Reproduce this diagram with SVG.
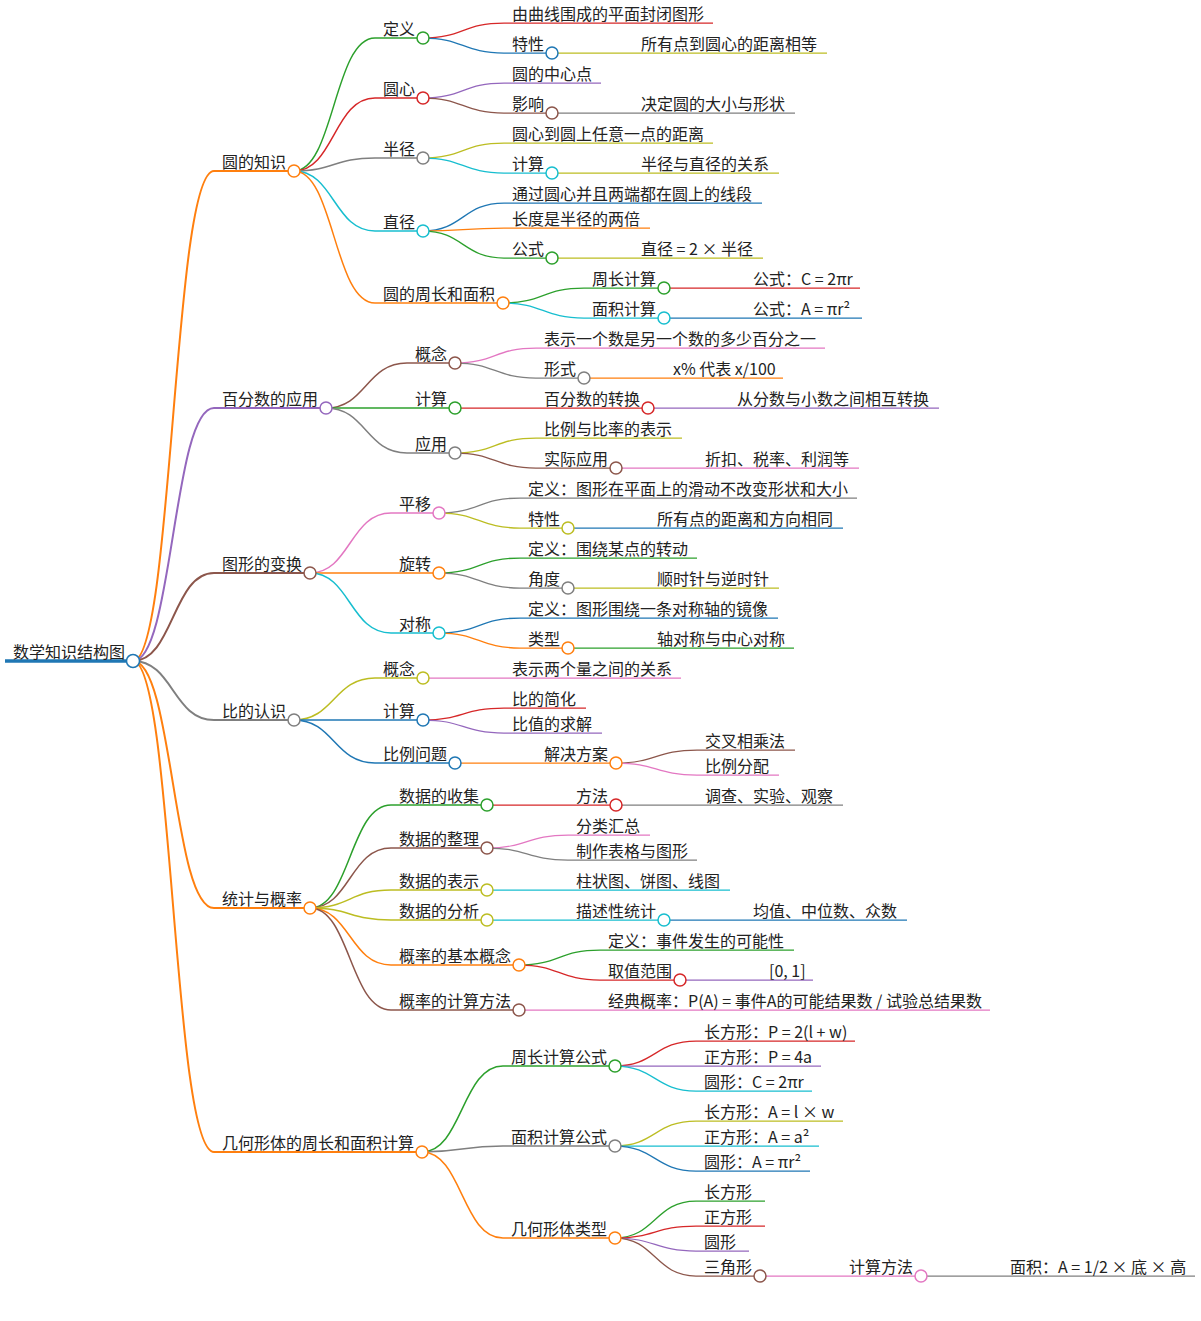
<svg xmlns="http://www.w3.org/2000/svg" width="1201" height="1321" viewBox="0 0 1201 1321">
<style>
text{font-family:"Noto Sans CJK SC","Noto Sans",sans-serif;font-size:16px;fill:#222}
path{fill:none}
circle{fill:#fff;stroke-width:1.5}
.d0{stroke-width:3.3}.d1{stroke-width:2}.d2{stroke-width:1.5}.d3{stroke-width:1.25}
.cB{stroke:#1f77b4}.cO{stroke:#ff7f0e}.cG{stroke:#2ca02c}.cR{stroke:#d62728}.cP{stroke:#9467bd}
.cN{stroke:#8c564b}.cK{stroke:#e377c2}.cY{stroke:#7f7f7f}.cL{stroke:#bcbd22}.cC{stroke:#17becf}
</style>
<rect width="1201" height="1321" fill="#fff"/>
<g id="connectors">
<path class="d1 cO" d="M133,661 C173,661 173,171 214,171"/>
<path class="d1 cP" d="M133,661 C173,661 173,408 214,408"/>
<path class="d1 cN" d="M133,661 C173,661 173,573 214,573"/>
<path class="d1 cY" d="M133,661 C173,661 173,720 214,720"/>
<path class="d1 cO" d="M133,661 C173,661 173,908 214,908"/>
<path class="d1 cO" d="M133,661 C173,661 173,1152 214,1152"/>
<path class="d2 cG" d="M294,171 C334,171 334,38 375,38"/>
<path class="d2 cR" d="M294,171 C334,171 334,98 375,98"/>
<path class="d2 cY" d="M294,171 C334,171 334,158 375,158"/>
<path class="d2 cC" d="M294,171 C334,171 334,231 375,231"/>
<path class="d2 cO" d="M294,171 C334,171 334,303 375,303"/>
<path class="d3 cR" d="M423,38 C463,38 463,23 504,23"/>
<path class="d3 cB" d="M423,38 C463,38 463,53 504,53"/>
<path class="d3 cL" d="M552,53 L633,53"/>
<path class="d3 cP" d="M423,98 C463,98 463,83 504,83"/>
<path class="d3 cN" d="M423,98 C463,98 463,113 504,113"/>
<path class="d3 cY" d="M552,113 L633,113"/>
<path class="d3 cL" d="M423,158 C463,158 463,143 504,143"/>
<path class="d3 cC" d="M423,158 C463,158 463,173 504,173"/>
<path class="d3 cL" d="M552,173 L633,173"/>
<path class="d3 cB" d="M423,231 C463,231 463,203 504,203"/>
<path class="d3 cO" d="M423,231 C463,231 463,228 504,228"/>
<path class="d3 cG" d="M423,231 C463,231 463,258 504,258"/>
<path class="d3 cL" d="M552,258 L633,258"/>
<path class="d3 cG" d="M503,303 C543,303 543,288 584,288"/>
<path class="d3 cC" d="M503,303 C543,303 543,318 584,318"/>
<path class="d3 cR" d="M664,288 L745,288"/>
<path class="d3 cB" d="M664,318 L745,318"/>
<path class="d2 cN" d="M326,408 C366,408 366,363 407,363"/>
<path class="d2 cG" d="M326,408 L407,408"/>
<path class="d2 cY" d="M326,408 C366,408 366,453 407,453"/>
<path class="d3 cK" d="M455,363 C495,363 495,348 536,348"/>
<path class="d3 cY" d="M455,363 C495,363 495,378 536,378"/>
<path class="d3 cO" d="M584,378 L665,378"/>
<path class="d3 cR" d="M455,408 L536,408"/>
<path class="d3 cP" d="M648,408 L729,408"/>
<path class="d3 cL" d="M455,453 C495,453 495,438 536,438"/>
<path class="d3 cN" d="M455,453 C495,453 495,468 536,468"/>
<path class="d3 cK" d="M616,468 L697,468"/>
<path class="d2 cK" d="M310,573 C350,573 350,513 391,513"/>
<path class="d2 cO" d="M310,573 L391,573"/>
<path class="d2 cC" d="M310,573 C350,573 350,633 391,633"/>
<path class="d3 cY" d="M439,513 C479,513 479,498 520,498"/>
<path class="d3 cL" d="M439,513 C479,513 479,528 520,528"/>
<path class="d3 cB" d="M568,528 L649,528"/>
<path class="d3 cG" d="M439,573 C479,573 479,558 520,558"/>
<path class="d3 cY" d="M439,573 C479,573 479,588 520,588"/>
<path class="d3 cL" d="M568,588 L649,588"/>
<path class="d3 cB" d="M439,633 C479,633 479,618 520,618"/>
<path class="d3 cO" d="M439,633 C479,633 479,648 520,648"/>
<path class="d3 cG" d="M568,648 L649,648"/>
<path class="d2 cL" d="M294,720 C334,720 334,678 375,678"/>
<path class="d2 cB" d="M294,720 L375,720"/>
<path class="d2 cB" d="M294,720 C334,720 334,763 375,763"/>
<path class="d3 cK" d="M423,678 L504,678"/>
<path class="d3 cR" d="M423,720 C463,720 463,708 504,708"/>
<path class="d3 cP" d="M423,720 C463,720 463,733 504,733"/>
<path class="d3 cO" d="M455,763 L536,763"/>
<path class="d3 cN" d="M616,763 C656,763 656,750 697,750"/>
<path class="d3 cK" d="M616,763 C656,763 656,775 697,775"/>
<path class="d2 cG" d="M310,908 C350,908 350,805 391,805"/>
<path class="d2 cN" d="M310,908 C350,908 350,848 391,848"/>
<path class="d2 cL" d="M310,908 C350,908 350,890 391,890"/>
<path class="d2 cL" d="M310,908 C350,908 350,920 391,920"/>
<path class="d2 cO" d="M310,908 C350,908 350,965 391,965"/>
<path class="d2 cN" d="M310,908 C350,908 350,1010 391,1010"/>
<path class="d3 cR" d="M487,805 L568,805"/>
<path class="d3 cY" d="M616,805 L697,805"/>
<path class="d3 cK" d="M487,848 C527,848 527,835 568,835"/>
<path class="d3 cY" d="M487,848 C527,848 527,860 568,860"/>
<path class="d3 cC" d="M487,890 L568,890"/>
<path class="d3 cC" d="M487,920 L568,920"/>
<path class="d3 cB" d="M664,920 L745,920"/>
<path class="d3 cG" d="M519,965 C559,965 559,950 600,950"/>
<path class="d3 cR" d="M519,965 C559,965 559,980 600,980"/>
<path class="d3 cP" d="M680,980 L761,980"/>
<path class="d3 cK" d="M519,1010 L600,1010"/>
<path class="d2 cG" d="M422,1152 C462,1152 462,1066 503,1066"/>
<path class="d2 cY" d="M422,1152 C462,1152 462,1146 503,1146"/>
<path class="d2 cO" d="M422,1152 C462,1152 462,1238 503,1238"/>
<path class="d3 cR" d="M615,1066 C655,1066 655,1041 696,1041"/>
<path class="d3 cP" d="M615,1066 L696,1066"/>
<path class="d3 cC" d="M615,1066 C655,1066 655,1091 696,1091"/>
<path class="d3 cL" d="M615,1146 C655,1146 655,1121 696,1121"/>
<path class="d3 cC" d="M615,1146 L696,1146"/>
<path class="d3 cB" d="M615,1146 C655,1146 655,1171 696,1171"/>
<path class="d3 cG" d="M615,1238 C655,1238 655,1201 696,1201"/>
<path class="d3 cR" d="M615,1238 C655,1238 655,1226 696,1226"/>
<path class="d3 cP" d="M615,1238 C655,1238 655,1251 696,1251"/>
<path class="d3 cN" d="M615,1238 C655,1238 655,1276 696,1276"/>
<path class="d3 cK" d="M760,1276 L841,1276"/>
<path class="d3 cY" d="M921,1276 L1002,1276"/>
</g>
<g id="root"><path class="d0 cB" d="M5,661 H133"/><circle class="cB" cx="133" cy="661" r="6.5"/><text x="13" y="658">数学知识结构图</text></g>
<g id="n-a"><path class="d1 cO" d="M214,171 H294"/><circle class="cO" cx="294" cy="171" r="6"/><text x="222" y="168">圆的知识</text></g>
<g id="n-a1"><path class="d2 cG" d="M375,38 H423"/><circle class="cG" cx="423" cy="38" r="6"/><text x="383" y="35">定义</text></g>
<g id="n-a1a"><path class="d3 cR" d="M504,23 H713"/><text x="512" y="20">由曲线围成的平面封闭图形</text></g>
<g id="n-a1b"><path class="d3 cB" d="M504,53 H552"/><circle class="cB" cx="552" cy="53" r="6"/><text x="512" y="50">特性</text></g>
<g id="n-a1b1"><path class="d3 cL" d="M633,53 H827"/><text x="641" y="50">所有点到圆心的距离相等</text></g>
<g id="n-a2"><path class="d2 cR" d="M375,98 H423"/><circle class="cR" cx="423" cy="98" r="6"/><text x="383" y="95">圆心</text></g>
<g id="n-a2a"><path class="d3 cP" d="M504,83 H601"/><text x="512" y="80">圆的中心点</text></g>
<g id="n-a2b"><path class="d3 cN" d="M504,113 H552"/><circle class="cN" cx="552" cy="113" r="6"/><text x="512" y="110">影响</text></g>
<g id="n-a2b1"><path class="d3 cY" d="M633,113 H795"/><text x="641" y="110">决定圆的大小与形状</text></g>
<g id="n-a3"><path class="d2 cY" d="M375,158 H423"/><circle class="cY" cx="423" cy="158" r="6"/><text x="383" y="155">半径</text></g>
<g id="n-a3a"><path class="d3 cL" d="M504,143 H713"/><text x="512" y="140">圆心到圆上任意一点的距离</text></g>
<g id="n-a3b"><path class="d3 cC" d="M504,173 H552"/><circle class="cC" cx="552" cy="173" r="6"/><text x="512" y="170">计算</text></g>
<g id="n-a3b1"><path class="d3 cL" d="M633,173 H779"/><text x="641" y="170">半径与直径的关系</text></g>
<g id="n-a4"><path class="d2 cC" d="M375,231 H423"/><circle class="cC" cx="423" cy="231" r="6"/><text x="383" y="228">直径</text></g>
<g id="n-a4a"><path class="d3 cB" d="M504,203 H762"/><text x="512" y="200">通过圆心并且两端都在圆上的线段</text></g>
<g id="n-a4b"><path class="d3 cO" d="M504,228 H650"/><text x="512" y="225">长度是半径的两倍</text></g>
<g id="n-a4c"><path class="d3 cG" d="M504,258 H552"/><circle class="cG" cx="552" cy="258" r="6"/><text x="512" y="255">公式</text></g>
<g id="n-a4c1"><path class="d3 cL" d="M633,258 H763"/><text x="641" y="255">直径 = 2 × 半径</text></g>
<g id="n-a5"><path class="d2 cO" d="M375,303 H503"/><circle class="cO" cx="503" cy="303" r="6"/><text x="383" y="300">圆的周长和面积</text></g>
<g id="n-a5a"><path class="d3 cG" d="M584,288 H664"/><circle class="cG" cx="664" cy="288" r="6"/><text x="592" y="285">周长计算</text></g>
<g id="n-a5a1"><path class="d3 cR" d="M745,288 H860"/><text x="753" y="285">公式：C = 2πr</text></g>
<g id="n-a5b"><path class="d3 cC" d="M584,318 H664"/><circle class="cC" cx="664" cy="318" r="6"/><text x="592" y="315">面积计算</text></g>
<g id="n-a5b1"><path class="d3 cB" d="M745,318 H862"/><text x="753" y="315">公式：A = πr²</text></g>
<g id="n-b"><path class="d1 cP" d="M214,408 H326"/><circle class="cP" cx="326" cy="408" r="6"/><text x="222" y="405">百分数的应用</text></g>
<g id="n-b1"><path class="d2 cN" d="M407,363 H455"/><circle class="cN" cx="455" cy="363" r="6"/><text x="415" y="360">概念</text></g>
<g id="n-b1a"><path class="d3 cK" d="M536,348 H825"/><text x="544" y="345">表示一个数是另一个数的多少百分之一</text></g>
<g id="n-b1b"><path class="d3 cY" d="M536,378 H584"/><circle class="cY" cx="584" cy="378" r="6"/><text x="544" y="375">形式</text></g>
<g id="n-b1b1"><path class="d3 cO" d="M665,378 H783"/><text x="673" y="375">x% 代表 x/100</text></g>
<g id="n-b2"><path class="d2 cG" d="M407,408 H455"/><circle class="cG" cx="455" cy="408" r="6"/><text x="415" y="405">计算</text></g>
<g id="n-b2a"><path class="d3 cR" d="M536,408 H648"/><circle class="cR" cx="648" cy="408" r="6"/><text x="544" y="405">百分数的转换</text></g>
<g id="n-b2a1"><path class="d3 cP" d="M729,408 H939"/><text x="737" y="405">从分数与小数之间相互转换</text></g>
<g id="n-b3"><path class="d2 cY" d="M407,453 H455"/><circle class="cY" cx="455" cy="453" r="6"/><text x="415" y="450">应用</text></g>
<g id="n-b3a"><path class="d3 cL" d="M536,438 H682"/><text x="544" y="435">比例与比率的表示</text></g>
<g id="n-b3b"><path class="d3 cN" d="M536,468 H616"/><circle class="cN" cx="616" cy="468" r="6"/><text x="544" y="465">实际应用</text></g>
<g id="n-b3b1"><path class="d3 cK" d="M697,468 H859"/><text x="705" y="465">折扣、税率、利润等</text></g>
<g id="n-c"><path class="d1 cN" d="M214,573 H310"/><circle class="cN" cx="310" cy="573" r="6"/><text x="222" y="570">图形的变换</text></g>
<g id="n-c1"><path class="d2 cK" d="M391,513 H439"/><circle class="cK" cx="439" cy="513" r="6"/><text x="399" y="510">平移</text></g>
<g id="n-c1a"><path class="d3 cY" d="M520,498 H857"/><text x="528" y="495">定义：图形在平面上的滑动不改变形状和大小</text></g>
<g id="n-c1b"><path class="d3 cL" d="M520,528 H568"/><circle class="cL" cx="568" cy="528" r="6"/><text x="528" y="525">特性</text></g>
<g id="n-c1b1"><path class="d3 cB" d="M649,528 H843"/><text x="657" y="525">所有点的距离和方向相同</text></g>
<g id="n-c2"><path class="d2 cO" d="M391,573 H439"/><circle class="cO" cx="439" cy="573" r="6"/><text x="399" y="570">旋转</text></g>
<g id="n-c2a"><path class="d3 cG" d="M520,558 H697"/><text x="528" y="555">定义：围绕某点的转动</text></g>
<g id="n-c2b"><path class="d3 cY" d="M520,588 H568"/><circle class="cY" cx="568" cy="588" r="6"/><text x="528" y="585">角度</text></g>
<g id="n-c2b1"><path class="d3 cL" d="M649,588 H779"/><text x="657" y="585">顺时针与逆时针</text></g>
<g id="n-c3"><path class="d2 cC" d="M391,633 H439"/><circle class="cC" cx="439" cy="633" r="6"/><text x="399" y="630">对称</text></g>
<g id="n-c3a"><path class="d3 cB" d="M520,618 H778"/><text x="528" y="615">定义：图形围绕一条对称轴的镜像</text></g>
<g id="n-c3b"><path class="d3 cO" d="M520,648 H568"/><circle class="cO" cx="568" cy="648" r="6"/><text x="528" y="645">类型</text></g>
<g id="n-c3b1"><path class="d3 cG" d="M649,648 H794"/><text x="657" y="645">轴对称与中心对称</text></g>
<g id="n-d"><path class="d1 cY" d="M214,720 H294"/><circle class="cY" cx="294" cy="720" r="6"/><text x="222" y="717">比的认识</text></g>
<g id="n-d1"><path class="d2 cL" d="M375,678 H423"/><circle class="cL" cx="423" cy="678" r="6"/><text x="383" y="675">概念</text></g>
<g id="n-d1a"><path class="d3 cK" d="M504,678 H681"/><text x="512" y="675">表示两个量之间的关系</text></g>
<g id="n-d2"><path class="d2 cB" d="M375,720 H423"/><circle class="cB" cx="423" cy="720" r="6"/><text x="383" y="717">计算</text></g>
<g id="n-d2a"><path class="d3 cR" d="M504,708 H586"/><text x="512" y="705">比的简化</text></g>
<g id="n-d2b"><path class="d3 cP" d="M504,733 H602"/><text x="512" y="730">比值的求解</text></g>
<g id="n-d3"><path class="d2 cB" d="M375,763 H455"/><circle class="cB" cx="455" cy="763" r="6"/><text x="383" y="760">比例问题</text></g>
<g id="n-d3a"><path class="d3 cO" d="M536,763 H616"/><circle class="cO" cx="616" cy="763" r="6"/><text x="544" y="760">解决方案</text></g>
<g id="n-d3a1"><path class="d3 cN" d="M697,750 H795"/><text x="705" y="747">交叉相乘法</text></g>
<g id="n-d3a2"><path class="d3 cK" d="M697,775 H779"/><text x="705" y="772">比例分配</text></g>
<g id="n-e"><path class="d1 cO" d="M214,908 H310"/><circle class="cO" cx="310" cy="908" r="6"/><text x="222" y="905">统计与概率</text></g>
<g id="n-e1"><path class="d2 cG" d="M391,805 H487"/><circle class="cG" cx="487" cy="805" r="6"/><text x="399" y="802">数据的收集</text></g>
<g id="n-e1a"><path class="d3 cR" d="M568,805 H616"/><circle class="cR" cx="616" cy="805" r="6"/><text x="576" y="802">方法</text></g>
<g id="n-e1a1"><path class="d3 cY" d="M697,805 H843"/><text x="705" y="802">调查、实验、观察</text></g>
<g id="n-e2"><path class="d2 cN" d="M391,848 H487"/><circle class="cN" cx="487" cy="848" r="6"/><text x="399" y="845">数据的整理</text></g>
<g id="n-e2a"><path class="d3 cK" d="M568,835 H650"/><text x="576" y="832">分类汇总</text></g>
<g id="n-e2b"><path class="d3 cY" d="M568,860 H697"/><text x="576" y="857">制作表格与图形</text></g>
<g id="n-e3"><path class="d2 cL" d="M391,890 H487"/><circle class="cL" cx="487" cy="890" r="6"/><text x="399" y="887">数据的表示</text></g>
<g id="n-e3a"><path class="d3 cC" d="M568,890 H730"/><text x="576" y="887">柱状图、饼图、线图</text></g>
<g id="n-e4"><path class="d2 cL" d="M391,920 H487"/><circle class="cL" cx="487" cy="920" r="6"/><text x="399" y="917">数据的分析</text></g>
<g id="n-e4a"><path class="d3 cC" d="M568,920 H664"/><circle class="cC" cx="664" cy="920" r="6"/><text x="576" y="917">描述性统计</text></g>
<g id="n-e4a1"><path class="d3 cB" d="M745,920 H907"/><text x="753" y="917">均值、中位数、众数</text></g>
<g id="n-e5"><path class="d2 cO" d="M391,965 H519"/><circle class="cO" cx="519" cy="965" r="6"/><text x="399" y="962">概率的基本概念</text></g>
<g id="n-e5a"><path class="d3 cG" d="M600,950 H794"/><text x="608" y="947">定义：事件发生的可能性</text></g>
<g id="n-e5b"><path class="d3 cR" d="M600,980 H680"/><circle class="cR" cx="680" cy="980" r="6"/><text x="608" y="977">取值范围</text></g>
<g id="n-e5b1"><path class="d3 cP" d="M761,980 H813"/><text x="769" y="977">[0, 1]</text></g>
<g id="n-e6"><path class="d2 cN" d="M391,1010 H519"/><circle class="cN" cx="519" cy="1010" r="6"/><text x="399" y="1007">概率的计算方法</text></g>
<g id="n-e6a"><path class="d3 cK" d="M600,1010 H990"/><text x="608" y="1007">经典概率：P(A) = 事件A的可能结果数 / 试验总结果数</text></g>
<g id="n-f"><path class="d1 cO" d="M214,1152 H422"/><circle class="cO" cx="422" cy="1152" r="6"/><text x="222" y="1149">几何形体的周长和面积计算</text></g>
<g id="n-f1"><path class="d2 cG" d="M503,1066 H615"/><circle class="cG" cx="615" cy="1066" r="6"/><text x="511" y="1063">周长计算公式</text></g>
<g id="n-f1a"><path class="d3 cR" d="M696,1041 H855"/><text x="704" y="1038">长方形：P = 2(l + w)</text></g>
<g id="n-f1b"><path class="d3 cP" d="M696,1066 H821"/><text x="704" y="1063">正方形：P = 4a</text></g>
<g id="n-f1c"><path class="d3 cC" d="M696,1091 H812"/><text x="704" y="1088">圆形：C = 2πr</text></g>
<g id="n-f2"><path class="d2 cY" d="M503,1146 H615"/><circle class="cY" cx="615" cy="1146" r="6"/><text x="511" y="1143">面积计算公式</text></g>
<g id="n-f2a"><path class="d3 cL" d="M696,1121 H843"/><text x="704" y="1118">长方形：A = l × w</text></g>
<g id="n-f2b"><path class="d3 cC" d="M696,1146 H819"/><text x="704" y="1143">正方形：A = a²</text></g>
<g id="n-f2c"><path class="d3 cB" d="M696,1171 H810"/><text x="704" y="1168">圆形：A = πr²</text></g>
<g id="n-f3"><path class="d2 cO" d="M503,1238 H615"/><circle class="cO" cx="615" cy="1238" r="6"/><text x="511" y="1235">几何形体类型</text></g>
<g id="n-f3a"><path class="d3 cG" d="M696,1201 H765"/><text x="704" y="1198">长方形</text></g>
<g id="n-f3b"><path class="d3 cR" d="M696,1226 H765"/><text x="704" y="1223">正方形</text></g>
<g id="n-f3c"><path class="d3 cP" d="M696,1251 H749"/><text x="704" y="1248">圆形</text></g>
<g id="n-f3d"><path class="d3 cN" d="M696,1276 H760"/><circle class="cN" cx="760" cy="1276" r="6"/><text x="704" y="1273">三角形</text></g>
<g id="n-f3d1"><path class="d3 cK" d="M841,1276 H921"/><circle class="cK" cx="921" cy="1276" r="6"/><text x="849" y="1273">计算方法</text></g>
<g id="n-f3d1a"><path class="d3 cY" d="M1002,1276 H1195"/><text x="1010" y="1273">面积：A = 1/2 × 底 × 高</text></g>
</svg>
